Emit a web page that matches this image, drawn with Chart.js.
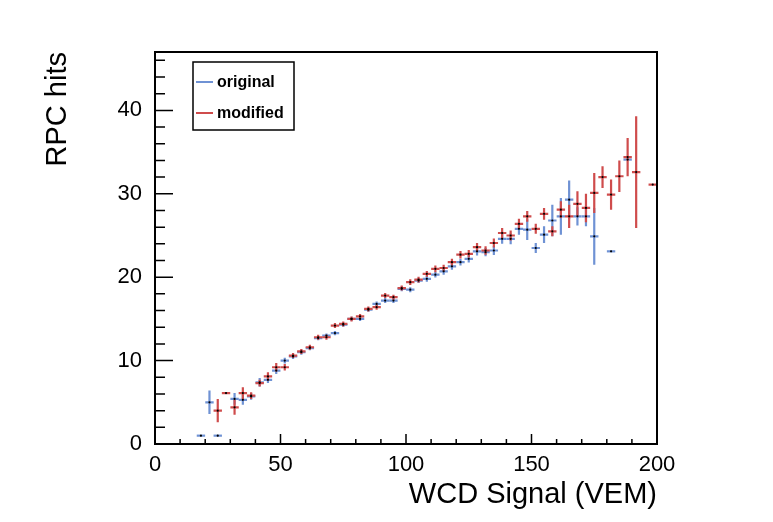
<!DOCTYPE html>
<html lang="en">
<head>
  <meta charset="UTF-8">
  <title>RPC hits vs WCD Signal</title>
  <script src="https://cdn.jsdelivr.net/npm/chart.js"></script>
  <style>
    body {
      margin: 0;
      background: #fff;
    }
    #wrap {
      width: 773px;
      height: 522px;
    }
  </style>
</head>
<body>
<div id="wrap"><canvas id="grafico"></canvas></div>

<script>
  // bin centres (VEM), bin half width
  const xs = [18.3, 21.7, 25, 28.3, 31.7, 35, 38.3, 41.7, 45, 48.3,
              51.7, 55, 58.3, 61.7, 65, 68.3, 71.7, 75, 78.3, 81.7,
              85, 88.3, 91.7, 95, 98.3, 101.7, 105, 108.3, 111.7, 115,
              118.3, 121.7, 125, 128.3, 131.7, 135, 138.3, 141.7, 145, 148.3,
              151.7, 155, 158.3, 161.7, 165, 168.3, 171.7, 175, 178.3, 181.7,
              185, 188.3, 191.7, 195, 198.3];
  const binHalf = 1.67;

  const originalY = [1.0, 5.0, 1.0, null, 5.4, 5.3, 5.7, 7.4, 7.7, 8.8,
                     10.0, 10.5, 11.0, 11.5, 12.7, 13.0, 13.3, 14.3, 15.0, 15.0,
                     16.1, 16.8, 17.2, 17.2, 18.6, 18.5, 19.6, 19.8, 20.3, 20.7,
                     21.3, 21.8, 22.2, 23.1, 23.0, 23.2, 24.6, 24.6, 25.8, 25.7,
                     23.5, 25.1, 26.8, 27.3, 29.3, 27.3, 27.3, 24.9, null, 23.1,
                     null, 34.1, null, null, null];
  const originalErr = [0, 1.4, 0, null, 0.7, 0.6, 0.4, 0.5, 0.4, 0.4,
                       0.35, 0.3, 0.3, 0.25, 0.25, 0.25, 0.25, 0.25, 0.25, 0.25,
                       0.25, 0.3, 0.3, 0.3, 0.3, 0.3, 0.3, 0.35, 0.35, 0.4,
                       0.4, 0.4, 0.45, 0.5, 0.5, 0.55, 0.6, 0.65, 0.7, 1.25,
                       0.6, 1.0, 1.9, 2.2, 2.3, 1.1, 1.2, 3.4, null, 0,
                       null, 0, null, null, null];

  const modifiedY = [null, null, 4.0, 6.1, 4.4, 6.1, 5.8, 7.3, 8.1, 9.2,
                     9.2, 10.6, 11.1, 11.6, 12.8, 12.8, 14.2, 14.4, 15.0, 15.3,
                     16.2, 16.4, 17.8, 17.6, 18.7, 19.4, 19.7, 20.4, 21.0, 21.1,
                     21.8, 22.7, 22.8, 23.6, 23.2, 24.1, 25.3, 25.0, 26.4, 27.3,
                     25.8, 27.6, 25.5, 28.1, 27.3, 28.8, 28.3, 30.1, 32.0, 29.9,
                     32.1, 34.4, 32.6, null, 31.1];
  const modifiedErr = [null, null, 1.4, 0, 0.9, 0.7, 0.4, 0.4, 0.5, 0.5,
                       0.4, 0.3, 0.3, 0.3, 0.3, 0.3, 0.3, 0.3, 0.3, 0.3,
                       0.3, 0.3, 0.3, 0.3, 0.3, 0.35, 0.35, 0.35, 0.4, 0.4,
                       0.4, 0.45, 0.45, 0.5, 0.5, 0.55, 0.6, 0.6, 0.6, 0.65,
                       0.6, 0.7, 0.6, 1.0, 1.4, 1.5, 1.7, 2.4, 1.3, 1.8,
                       1.9, 2.3, 6.7, null, 0];

  const seriesNames = ['original', 'modified'];
  const seriesColors = ['#6f92d4', '#cf4c4c'];
  const xTicks = [0, 50, 100, 150, 200];
  const yTicks = [0, 10, 20, 30, 40];

  const FONT = '"Liberation Sans", Arial, Helvetica, sans-serif';

  function puntos(ys, errs) {
    const out = [];
    for (let i = 0; i < xs.length; i++) {
      if (ys[i] === null) continue;
      out.push({ x: xs[i], y: ys[i], e: errs[i] });
    }
    return out;
  }

  // error bars under the markers
  const errorBars = {
    id: 'errorBars',
    beforeDatasetsDraw(chart) {
      const ctx = chart.ctx;
      const sx = chart.scales.x, sy = chart.scales.y;
      ctx.save();
      ctx.lineWidth = 2.2;
      chart.data.datasets.forEach((ds) => {
        ctx.strokeStyle = ds.borderColor;
        ds.data.forEach((p) => {
          const px = sx.getPixelForValue(p.x);
          const py = sy.getPixelForValue(p.y);
          ctx.beginPath();
          ctx.moveTo(sx.getPixelForValue(p.x - binHalf), py);
          ctx.lineTo(sx.getPixelForValue(p.x + binHalf), py);
          if (p.e > 0) {
            ctx.moveTo(px, sy.getPixelForValue(p.y - p.e));
            ctx.lineTo(px, sy.getPixelForValue(p.y + p.e));
          }
          ctx.stroke();
        });
      });
      ctx.restore();
    }
  };

  // ROOT-like frame, inward ticks, titles and legend
  const marco = {
    id: 'marco',
    afterDraw(chart) {
      const ctx = chart.ctx;
      const a = chart.chartArea;
      const sx = chart.scales.x, sy = chart.scales.y;
      ctx.save();
      ctx.strokeStyle = '#000';
      ctx.lineWidth = 2;
      ctx.strokeRect(a.left, a.top, a.right - a.left, a.bottom - a.top);

      ctx.lineWidth = 1.5;
      ctx.beginPath();
      for (let v = 0; v <= 200; v += 10) {
        const px = sx.getPixelForValue(v);
        const len = v % 50 === 0 ? 10 : 5;
        ctx.moveTo(px, a.bottom);
        ctx.lineTo(px, a.bottom - len);
      }
      for (let v = 0; v <= 46; v += 2) {
        const py = sy.getPixelForValue(v);
        const len = v % 10 === 0 ? 18 : 10;
        ctx.moveTo(a.left, py);
        ctx.lineTo(a.left + len, py);
      }
      ctx.stroke();

      // axis titles
      ctx.fillStyle = '#000';
      ctx.font = '29px ' + FONT;
      ctx.textAlign = 'right';
      ctx.textBaseline = 'alphabetic';
      ctx.fillText('WCD Signal (VEM)', a.right, 503);
      ctx.save();
      ctx.translate(66, a.top);
      ctx.rotate(-Math.PI / 2);
      ctx.fillText('RPC hits', 0, 0);
      ctx.restore();

      // legend
      const lx = 193, ly = 62, lw = 101, lh = 68;
      ctx.fillStyle = '#fff';
      ctx.fillRect(lx, ly, lw, lh);
      ctx.lineWidth = 1.5;
      ctx.strokeStyle = '#000';
      ctx.strokeRect(lx, ly, lw, lh);
      ctx.font = 'bold 16px ' + FONT;
      ctx.textAlign = 'left';
      ctx.textBaseline = 'middle';
      const rows = [82, 113];
      seriesNames.forEach((name, i) => {
        ctx.strokeStyle = seriesColors[i];
        ctx.lineWidth = 2;
        ctx.beginPath();
        ctx.moveTo(lx + 3, rows[i]);
        ctx.lineTo(lx + 20, rows[i]);
        ctx.stroke();
        ctx.fillStyle = '#000';
        ctx.fillText(name, lx + 24, rows[i] + 1);
      });
      ctx.restore();
    }
  };

  new Chart(document.getElementById('grafico'), {
    type: 'scatter',
    data: {
      datasets: [
        {
          label: seriesNames[0],
          data: puntos(originalY, originalErr),
          borderColor: seriesColors[0],
          backgroundColor: '#000',
          pointRadius: 1.1,
          pointBorderWidth: 0,
          pointHoverRadius: 1.1
        },
        {
          label: seriesNames[1],
          data: puntos(modifiedY, modifiedErr),
          borderColor: seriesColors[1],
          backgroundColor: '#000',
          pointRadius: 1.1,
          pointBorderWidth: 0,
          pointHoverRadius: 1.1
        }
      ]
    },
    options: {
      responsive: true,
      maintainAspectRatio: false,
      animation: false,
      events: [],
      layout: { padding: { left: 110, right: 116, top: 52, bottom: 38 } },
      plugins: {
        legend: { display: false },
        tooltip: { enabled: false }
      },
      scales: {
        x: {
          type: 'linear',
          min: 0,
          max: 200,
          afterFit(scale) { scale.height = 40; },
          afterBuildTicks(scale) { scale.ticks = xTicks.map(v => ({ value: v })); },
          grid: { display: false, drawTicks: false },
          border: { display: true, color: '#000', width: 2 },
          ticks: {
            color: '#000',
            padding: 8,
            maxRotation: 0,
            font: { family: FONT, size: 22 }
          }
        },
        y: {
          type: 'linear',
          min: 0,
          max: 47,
          afterFit(scale) { scale.width = 45; },
          afterBuildTicks(scale) { scale.ticks = yTicks.map(v => ({ value: v })); },
          grid: { display: false, drawTicks: false },
          border: { display: true, color: '#000', width: 2 },
          ticks: {
            color: '#000',
            padding: 13,
            font: { family: FONT, size: 22 }
          }
        }
      }
    },
    plugins: [errorBars, marco]
  });
</script>
</body>
</html>
